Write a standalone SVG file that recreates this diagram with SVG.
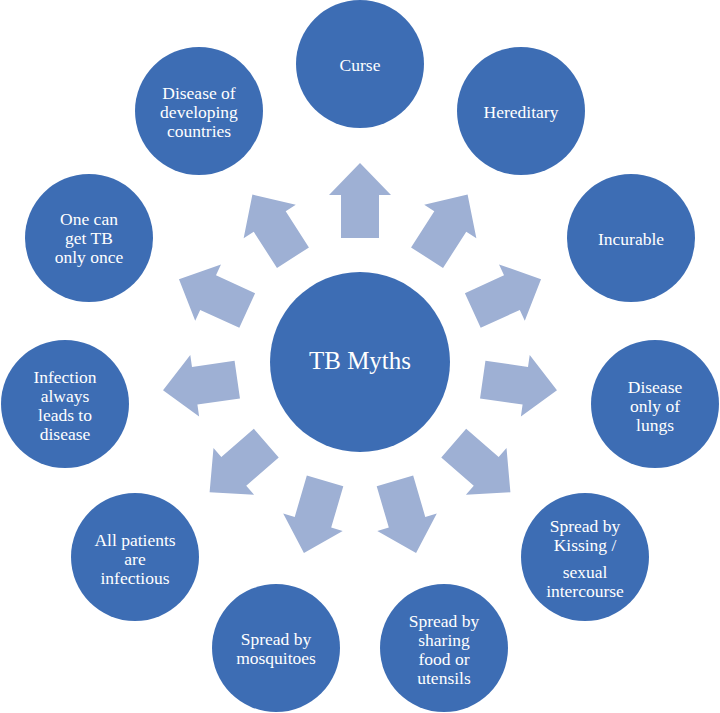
<svg xmlns="http://www.w3.org/2000/svg" width="720" height="713" viewBox="0 0 720 713">
<style>
.node{fill:#3d6db4}
.arrow{fill:#9eb0d4}
text{fill:#ffffff;text-anchor:middle}
.t{font-size:17.5px}
.tc{font-size:25px}
</style>
<defs>
<polygon id="arr" points="-19,-124 -19,-167 -31,-167 0,-199 31,-167 19,-167 19,-124"/>
</defs>
<rect width="720" height="713" fill="#ffffff"/>
<g id="connectors" class="arrow">
<use href="#arr" transform="translate(360,362) rotate(0)"/>
<use href="#arr" transform="translate(360,362) rotate(32.727)"/>
<use href="#arr" transform="translate(360,362) rotate(65.455)"/>
<use href="#arr" transform="translate(360,362) rotate(98.182)"/>
<use href="#arr" transform="translate(360,362) rotate(130.909)"/>
<use href="#arr" transform="translate(360,362) rotate(163.636)"/>
<use href="#arr" transform="translate(360,362) rotate(196.364)"/>
<use href="#arr" transform="translate(360,362) rotate(229.091)"/>
<use href="#arr" transform="translate(360,362) rotate(261.818)"/>
<use href="#arr" transform="translate(360,362) rotate(294.545)"/>
<use href="#arr" transform="translate(360,362) rotate(327.273)"/>
</g>
<g font-family="Liberation Serif, Tinos, Times New Roman, DejaVu Serif, serif">
<g id="center">
<circle class="node" cx="360" cy="362" r="90"/>
<text class="tc" x="360" y="369">TB Myths</text>
</g>
<g id="n0">
<circle class="node" cx="360" cy="64" r="64"/>
<text class="t" x="360" y="71">Curse</text>
</g>
<g id="n1">
<circle class="node" cx="521" cy="111" r="64"/>
<text class="t" x="521" y="118">Hereditary</text>
</g>
<g id="n2">
<circle class="node" cx="631" cy="238" r="64"/>
<text class="t" x="631" y="245">Incurable</text>
</g>
<g id="n3">
<circle class="node" cx="655" cy="404" r="64"/>
<text class="t" x="655" y="393">Disease</text>
<text class="t" x="655" y="412">only of</text>
<text class="t" x="655" y="431">lungs</text>
</g>
<g id="n4">
<circle class="node" cx="585" cy="557" r="64"/>
<text class="t" x="585" y="532">Spread by</text>
<text class="t" x="585" y="551">Kissing /</text>
<text class="t" x="585" y="578">sexual</text>
<text class="t" x="585" y="597">intercourse</text>
</g>
<g id="n5">
<circle class="node" cx="444" cy="648" r="64"/>
<text class="t" x="444" y="627">Spread by</text>
<text class="t" x="444" y="646">sharing</text>
<text class="t" x="444" y="665">food or</text>
<text class="t" x="444" y="684">utensils</text>
</g>
<g id="n6">
<circle class="node" cx="276" cy="648" r="64"/>
<text class="t" x="276" y="645">Spread by</text>
<text class="t" x="276" y="664">mosquitoes</text>
</g>
<g id="n7">
<circle class="node" cx="135" cy="557" r="64"/>
<text class="t" x="135" y="546">All patients</text>
<text class="t" x="135" y="565">are</text>
<text class="t" x="135" y="584">infectious</text>
</g>
<g id="n8">
<circle class="node" cx="65" cy="404" r="64"/>
<text class="t" x="65" y="383">Infection</text>
<text class="t" x="65" y="402">always</text>
<text class="t" x="65" y="421">leads to</text>
<text class="t" x="65" y="440">disease</text>
</g>
<g id="n9">
<circle class="node" cx="89" cy="238" r="64"/>
<text class="t" x="89" y="225">One can</text>
<text class="t" x="89" y="244">get TB</text>
<text class="t" x="89" y="263">only once</text>
</g>
<g id="n10">
<circle class="node" cx="199" cy="111" r="64"/>
<text class="t" x="199" y="99">Disease of</text>
<text class="t" x="199" y="118">developing</text>
<text class="t" x="199" y="137">countries</text>
</g>
</g>
</svg>
